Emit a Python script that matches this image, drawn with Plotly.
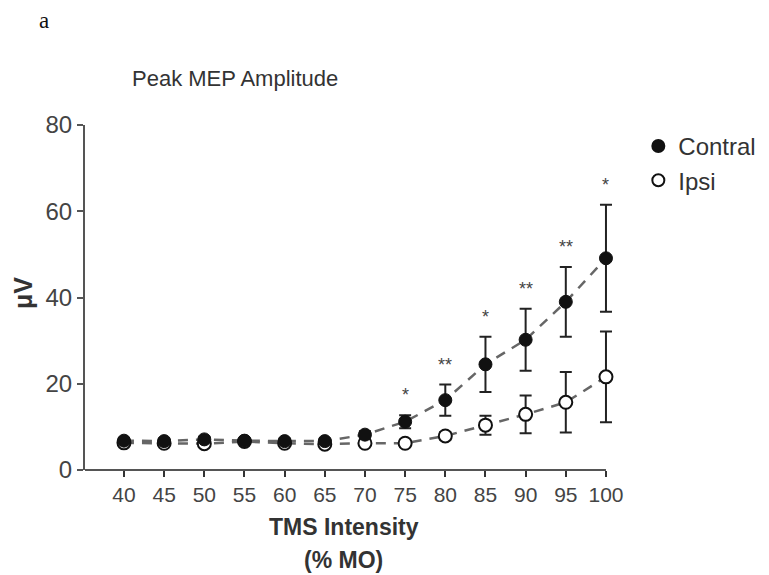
import plotly.graph_objects as go

intensity = [40, 45, 50, 55, 60, 65, 70, 75, 80, 85, 90, 95, 100]
contral_mean = [6.8, 6.7, 7.1, 6.8, 6.7, 6.7, 8.2, 11.2, 16.2, 24.5, 30.2, 39.0, 49.1]
contral_sem = [0.6, 0.6, 0.6, 0.5, 0.6, 0.6, 0.8, 1.5, 3.6, 6.4, 7.2, 8.1, 12.4]
ipsi_mean = [6.3, 6.2, 6.1, 6.6, 6.2, 6.0, 6.2, 6.2, 7.9, 10.4, 12.9, 15.7, 21.6]
ipsi_sem = [0.4, 0.4, 0.4, 0.4, 0.4, 0.4, 0.5, 0.8, 0.9, 2.2, 4.4, 7.0, 10.5]
significance = ["", "", "", "", "", "", "", "*", "**", "*", "**", "**", "*"]
x_ticks = [40, 45, 50, 55, 60, 65, 70, 75, 80, 85, 90, 95, 100]
y_ticks = [0, 20, 40, 60, 80]

FONT = "Liberation Sans, Arial, sans-serif"
LINE_GREY = "#666666"
AXIS_GREY = "#555555"

X_MIN, X_MAX, X_END = 35.15, 101.0, 100

fig = go.Figure()

# dashed connecting lines
fig.add_trace(go.Scatter(x=intensity, y=contral_mean, mode="lines",
                         line=dict(color=LINE_GREY, width=2.5, dash="10px,8px"),
                         showlegend=False, hoverinfo="skip", cliponaxis=False))
fig.add_trace(go.Scatter(x=intensity, y=ipsi_mean, mode="lines",
                         line=dict(color=LINE_GREY, width=2.5, dash="10px,8px"),
                         showlegend=False, hoverinfo="skip", cliponaxis=False))

# markers with error bars
fig.add_trace(go.Scatter(x=intensity, y=ipsi_mean, mode="markers", name="Ipsi",
                         legendgroup="ipsi", legendrank=2,
                         marker=dict(symbol="circle", size=13, color="white",
                                     line=dict(color="#111111", width=2)),
                         error_y=dict(type="data", array=ipsi_sem, visible=True,
                                      color="#222222", thickness=2, width=6),
                         cliponaxis=False))
fig.add_trace(go.Scatter(x=intensity, y=contral_mean, mode="markers", name="Contral",
                         legendgroup="contral", legendrank=1,
                         marker=dict(symbol="circle", size=13, color="#111111",
                                     line=dict(color="#111111", width=1)),
                         error_y=dict(type="data", array=contral_sem, visible=True,
                                      color="#222222", thickness=2, width=6),
                         cliponaxis=False))

annotations = []
for xi, m, s, lab in zip(intensity, contral_mean, contral_sem, significance):
    if lab:
        annotations.append(dict(x=xi, y=m + s, text=lab, showarrow=False,
                                yanchor="middle", yshift=20,
                                font=dict(family=FONT, size=18, color="#444444")))

annotations.append(dict(x=-0.077, y=1.304, xref="paper", yref="paper", xanchor="center",
                        yanchor="middle", text="a", showarrow=False,
                        font=dict(family="Liberation Serif, Times New Roman, serif",
                                  size=23, color="#111111")))
annotations.append(dict(x=0.284, y=1.136, xref="paper", yref="paper", xanchor="center",
                        yanchor="middle", text="Peak MEP Amplitude", showarrow=False,
                        font=dict(family=FONT, size=22, color="#333333")))
annotations.append(dict(x=0.489, y=-0.165, xref="paper", yref="paper", xanchor="center",
                        yanchor="middle", text="<b>TMS Intensity</b>", showarrow=False,
                        font=dict(family=FONT, size=23, color="#333333")))
annotations.append(dict(x=0.489, y=-0.261, xref="paper", yref="paper", xanchor="center",
                        yanchor="middle", text="<b>(% MO)</b>", showarrow=False,
                        font=dict(family=FONT, size=23, color="#333333")))
annotations.append(dict(x=-0.117, y=0.513, xref="paper", yref="paper", xanchor="center",
                        yanchor="middle", text="<b>μV</b>", showarrow=False, textangle=-90,
                        font=dict(family=FONT, size=25, color="#333333")))

fig.update_layout(
    width=761, height=567,
    margin=dict(l=77, r=155, t=117, b=105, autoexpand=False),
    paper_bgcolor="white", plot_bgcolor="white",
    font=dict(family=FONT, color="#444444"),
    showlegend=True,
    legend=dict(x=1.046, y=1.003, xanchor="left", yanchor="top",
                font=dict(family=FONT, size=24, color="#333333"),
                itemsizing="constant", bgcolor="rgba(0,0,0,0)", tracegroupgap=0),
    annotations=annotations,
    shapes=[dict(type="line", xref="x", yref="paper", x0=X_MIN, x1=X_END, y0=0, y1=0,
                 line=dict(color=AXIS_GREY, width=2), layer="above")],
)

fig.update_xaxes(range=[X_MIN, X_MAX], tickmode="array", tickvals=x_ticks,
                 ticktext=[str(v) for v in x_ticks],
                 showgrid=False, zeroline=False, showline=False,
                 ticks="outside", ticklen=6, tickwidth=1.5, tickcolor="#333333",
                 tickfont=dict(family=FONT, size=21, color="#444444"))
fig.update_yaxes(range=[0, 80], tickmode="array", tickvals=y_ticks,
                 showgrid=False, zeroline=False, showline=True, linecolor=AXIS_GREY,
                 linewidth=2, ticks="outside", ticklen=6, tickwidth=2, tickcolor=AXIS_GREY,
                 tickfont=dict(family=FONT, size=24, color="#444444"))

fig.write_html("out.html")
